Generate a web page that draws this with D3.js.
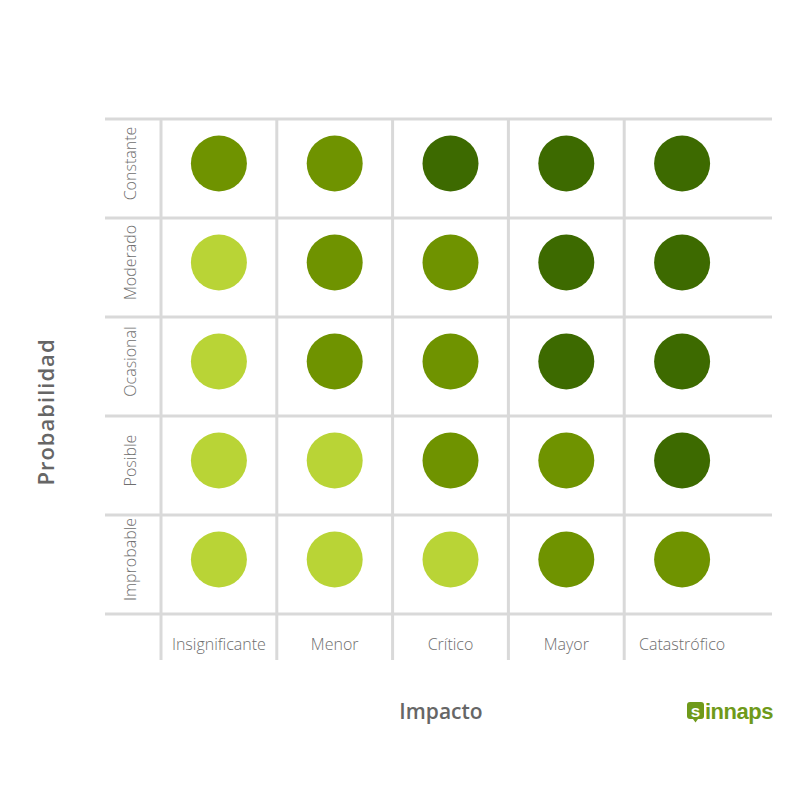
<!DOCTYPE html>
<html>
<head>
<meta charset="utf-8">
<script src="https://cdn.jsdelivr.net/npm/d3@7"></script>
<style>
  html, body { margin: 0; padding: 0; background: #ffffff; }
  svg { display: block; }
</style>
</head>
<body>
<svg id="chart" width="800" height="800"></svg>
<script>
// ---- data ----
const impactos = ["Insignificante", "Menor", "Crítico", "Mayor", "Catastrófico"];
const probabilidades = ["Constante", "Moderado", "Ocasional", "Posible", "Improbable"];
// risk level per row (probabilidad) and column (impacto): 1 = bajo, 2 = medio, 3 = alto
const nivelConstante  = [2, 2, 3, 3, 3];
const nivelModerado   = [1, 2, 2, 3, 3];
const nivelOcasional  = [1, 2, 2, 3, 3];
const nivelPosible    = [1, 1, 2, 2, 3];
const nivelImprobable = [1, 1, 1, 2, 2];
const niveles = [nivelConstante, nivelModerado, nivelOcasional, nivelPosible, nivelImprobable];

const cells = [];
probabilidades.forEach((p, i) => {
  impactos.forEach((im, j) => cells.push({ prob: p, imp: im, nivel: niveles[i][j] }));
});

// ---- chart ----
const svg = d3.select("#chart");
const gridColor = "#d9d9d9";
const textColor = "#6e6e6e";
const fontFam = "'Open Sans', 'Noto Sans', sans-serif";

const x = d3.scaleBand().domain(impactos).range([161, 740]);
const y = d3.scaleBand().domain(probabilidades).range([119, 614]);
const color = d3.scaleOrdinal().domain([1, 2, 3]).range(["#b9d436", "#6f9300", "#3d6a00"]);

// horizontal grid lines (row borders)
const yBounds = probabilidades.map(p => y(p)).concat([y.range()[1]]);
svg.append("g").selectAll("line").data(yBounds).join("line")
  .attr("x1", 105).attr("x2", 772)
  .attr("y1", d => d).attr("y2", d => d)
  .attr("stroke", gridColor).attr("stroke-width", 3);

// vertical grid lines (column borders)
const xBounds = impactos.map(i => x(i));
svg.append("g").selectAll("line").data(xBounds).join("line")
  .attr("x1", d => d).attr("x2", d => d)
  .attr("y1", 118).attr("y2", 660)
  .attr("stroke", gridColor).attr("stroke-width", 3);

// circles
svg.append("g").selectAll("circle").data(cells).join("circle")
  .attr("cx", d => x(d.imp) + x.bandwidth() / 2)
  .attr("cy", d => y(d.prob) + y.bandwidth() / 2 - 5)
  .attr("r", 28)
  .attr("fill", d => color(d.nivel));

// row labels (rotated)
svg.append("g").selectAll("text").data(probabilidades).join("text")
  .attr("transform", d => `translate(136, ${y(d) + y.bandwidth() / 2 - 5}) rotate(-90)`)
  .attr("text-anchor", "middle")
  .attr("font-family", fontFam).attr("font-weight", 300)
  .attr("font-size", 16).attr("fill", textColor)
  .text(d => d);

// column labels
svg.append("g").selectAll("text").data(impactos).join("text")
  .attr("x", d => x(d) + x.bandwidth() / 2)
  .attr("y", 650)
  .attr("text-anchor", "middle")
  .attr("font-family", fontFam).attr("font-weight", 300)
  .attr("font-size", 16).attr("fill", textColor)
  .text(d => d);

// axis titles
svg.append("text")
  .attr("transform", "translate(54, 412) rotate(-90)")
  .attr("text-anchor", "middle")
  .attr("font-family", fontFam).attr("font-weight", 600)
  .attr("font-size", 22).attr("fill", "#666666")
  .attr("letter-spacing", 1)
  .text("Probabilidad");

svg.append("text")
  .attr("x", 441).attr("y", 719)
  .attr("text-anchor", "middle")
  .attr("font-family", fontFam).attr("font-weight", 600)
  .attr("font-size", 21).attr("fill", "#666666")
  .text("Impacto");

// logo
const logo = svg.append("g").attr("transform", "translate(687, 702)");
logo.append("rect").attr("x", 0).attr("y", 0).attr("width", 17).attr("height", 17)
  .attr("rx", 3).attr("fill", "#6f9a1a");
logo.append("path").attr("d", "M6,17 L8.5,20.5 L11,17 Z").attr("fill", "#6f9a1a");
logo.append("text").attr("x", 8.5).attr("y", 14.5).attr("text-anchor", "middle")
  .attr("font-family", "'Liberation Sans', Arial, sans-serif").attr("font-weight", 700)
  .attr("font-size", 17).attr("fill", "#ffffff").text("s");
logo.append("text").attr("x", 18).attr("y", 17)
  .attr("font-family", "'Liberation Sans', Arial, sans-serif").attr("font-weight", 700)
  .attr("font-size", 22).attr("fill", "#6f9a1a").attr("letter-spacing", -0.5)
  .text("innaps");
</script>
</body>
</html>
